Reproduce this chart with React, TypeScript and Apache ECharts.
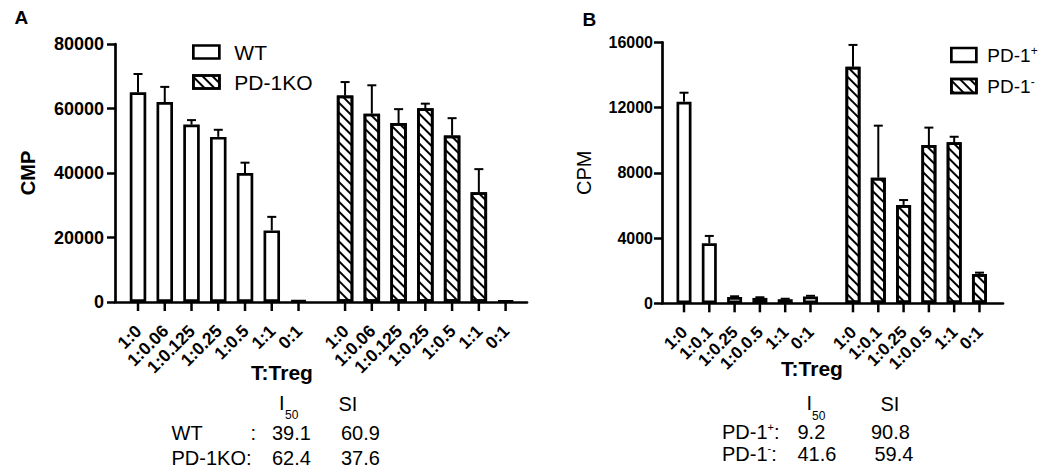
import React, { useEffect, useRef } from 'react';
import * as echarts from 'echarts';

// ---------- data ----------
const ratiosA = ['1:0', '1:0.06', '1:0.125', '1:0.25', '1:0.5', '1:1', '0:1'];
const wtMean = [65000, 62000, 55000, 51200, 40000, 22200, 500];
const wtSem = [5700, 4700, 1400, 2200, 3200, 4200, 0];
const koMean = [64000, 58400, 55500, 60100, 51600, 34000, 400];
const koSem = [4200, 8800, 4300, 1400, 5400, 7200, 0];

const ratiosB = ['1:0', '1:0.1', '1:0.25', '1:0.0.5', '1:1', '0:1'];
const posMean = [12360, 3680, 380, 330, 250, 420];
const posSem = [550, 450, 50, 40, 30, 40];
const negMean = [14500, 7700, 6030, 9700, 9870, 1800];
const negSem = [1340, 3190, 300, 1070, 340, 80];

const statRowsA = ['WT', 'PD-1KO:'];
const i50A = ['39.1', '62.4'];
const siA = ['60.9', '37.6'];
const statRowsB = ['+', '-'];
const i50B = ['9.2', '41.6'];
const siB = ['90.8', '59.4'];

// ---------- layout ----------
const FONT = '"Liberation Sans", Arial, Helvetica, sans-serif';
const offA = [0.86, 8.6];
const xMaxA = 15.4;
const offB = [0.87, 7.55];
const xMaxB = 13.48;

const hatch = {
  symbol: 'rect',
  symbolSize: 1,
  color: '#000',
  dashArrayX: [1, 0],
  dashArrayY: [1.7, 4.3],
  rotation: Math.PI / 4,
};

function barSeries(name: string, xi: number, means: number[], off: number, width: number, hatched: boolean) {
  return {
    type: 'bar',
    name,
    xAxisIndex: xi,
    yAxisIndex: xi,
    barWidth: width,
    barGap: '-100%',
    data: means.map((v, i) => [off + i, v]),
    itemStyle: {
      color: '#fff',
      borderColor: '#000',
      borderWidth: 2.7,
      ...(hatched ? { decal: hatch } : {}),
    },
    emphasis: { disabled: true },
    silent: true,
    z: 2,
  };
}

function errSeries(xi: number, means: number[], sems: number[], off: number) {
  return {
    type: 'custom',
    xAxisIndex: xi,
    yAxisIndex: xi,
    silent: true,
    z: 3,
    data: means.map((v, i) => [off + i, v, sems[i]]),
    renderItem: (_p: any, api: any) => {
      const x = api.value(0);
      const m = api.value(1);
      const e = api.value(2);
      if (!(e > 0)) return { type: 'group', children: [] };
      const p0 = api.coord([x, m]);
      const p1 = api.coord([x, m + e]);
      return {
        type: 'group',
        children: [
          { type: 'line', shape: { x1: p0[0], y1: p0[1], x2: p1[0], y2: p1[1] }, style: { stroke: '#000', lineWidth: 2 } },
          { type: 'line', shape: { x1: p1[0] - 4.5, y1: p1[1], x2: p1[0] + 4.5, y2: p1[1] }, style: { stroke: '#000', lineWidth: 2 } },
        ],
      };
    },
  };
}

function tickSeries(xi: number, labels: string[], offs: number[], fontSize: number) {
  const data: number[][] = [];
  offs.forEach((o) => labels.forEach((_l, i) => data.push([o + i, i])));
  return {
    type: 'custom',
    xAxisIndex: xi,
    yAxisIndex: xi,
    silent: true,
    z: 3,
    data,
    renderItem: (_p: any, api: any) => {
      const x = api.value(0);
      const idx = api.value(1);
      const p = api.coord([x, 0]);
      return {
        type: 'group',
        children: [
          { type: 'line', shape: { x1: p[0], y1: p[1], x2: p[0], y2: p[1] + 9 }, style: { stroke: '#000', lineWidth: 2.5 } },
          {
            type: 'text',
            x: p[0] + 0.5,
            y: p[1] + 26,
            rotation: Math.PI / 4,
            style: {
              text: labels[idx],
              align: 'right',
              verticalAlign: 'middle',
              font: `bold ${fontSize}px ${FONT}`,
              fill: '#000',
            },
          },
        ],
      };
    },
  };
}

function txt(text: string, x: number, y: number, size: number, weight = 'normal', align = 'left') {
  return {
    type: 'text',
    x,
    y,
    silent: true,
    style: { text, font: `${weight} ${size}px ${FONT}`, fill: '#000', align, verticalAlign: 'middle' },
  };
}

function supTxt(base: string, sup: string, tail: string, x: number, y: number) {
  return {
    type: 'text',
    x,
    y,
    silent: true,
    style: {
      text: `{a|${base}}{p|${sup}}{a|${tail}}`,
      fill: '#000',
      verticalAlign: 'middle',
      rich: {
        a: { fontSize: 20, lineHeight: 22, fontFamily: FONT, fill: '#000' },
        p: { fontSize: 11, lineHeight: 11, fontFamily: FONT, verticalAlign: 'top', fill: '#000' },
      },
    },
  };
}

const axisLine = { show: true, lineStyle: { color: '#000', width: 2.7 } };
const plain = (v: number) => String(v);

export default function App() {
  const ref = useRef<HTMLDivElement>(null);
  useEffect(() => {
    if (!ref.current) return;
    const chart = echarts.init(ref.current, undefined, { renderer: 'svg' });
    const option: any = {
      animation: false,
      backgroundColor: '#fff',
      grid: [
        { left: 115, top: 44, width: 412, height: 258 },
        { left: 662, top: 42.3, width: 341, height: 261 },
      ],
      xAxis: [
        { type: 'value', gridIndex: 0, min: 0, max: xMaxA, axisLine, axisTick: { show: false }, axisLabel: { show: false }, splitLine: { show: false } },
        { type: 'value', gridIndex: 1, min: 0, max: xMaxB, axisLine, axisTick: { show: false }, axisLabel: { show: false }, splitLine: { show: false } },
      ],
      yAxis: [
        {
          type: 'value', gridIndex: 0, min: 0, max: 80000, interval: 20000,
          axisLine, axisTick: { show: true, length: 8, lineStyle: { color: '#000', width: 2.5 } },
          axisLabel: { color: '#000', fontSize: 18, fontWeight: 'bold', fontFamily: FONT, margin: 11, formatter: plain },
          splitLine: { show: false },
          name: 'CMP', nameLocation: 'middle', nameGap: 77,
          nameTextStyle: { color: '#000', fontSize: 20, fontWeight: 'bold', fontFamily: FONT },
        },
        {
          type: 'value', gridIndex: 1, min: 0, max: 16000, interval: 4000,
          axisLine, axisTick: { show: true, length: 8, lineStyle: { color: '#000', width: 2.5 } },
          axisLabel: { color: '#000', fontSize: 16, fontWeight: 'bold', fontFamily: FONT, margin: 9, formatter: plain },
          splitLine: { show: false },
          name: 'CPM', nameLocation: 'middle', nameGap: 68,
          nameTextStyle: { color: '#000', fontSize: 20, fontWeight: 'normal', fontFamily: FONT },
        },
      ],
      legend: [
        {
          data: ['WT', 'PD-1KO'], orient: 'vertical', left: 187, top: 36.5, icon: 'rect',
          itemWidth: 26, itemHeight: 13, itemGap: 9, selectedMode: false,
          itemStyle: { borderColor: '#000', borderWidth: 2.7 },
          textStyle: { fontSize: 21, lineHeight: 21, fontFamily: FONT, color: '#000', padding: [0, 0, 0, 10] },
        },
        {
          data: ['PD-1+', 'PD-1-'], orient: 'vertical', left: 945, top: 40, icon: 'rect',
          itemWidth: 25, itemHeight: 14, itemGap: 11, selectedMode: false,
          itemStyle: { borderColor: '#000', borderWidth: 2.7 },
          formatter: (n: string) => (n === 'PD-1+' ? '{a|PD-1}{p|+}' : '{a|PD-1}{p|-}'),
          textStyle: {
            fontSize: 19, lineHeight: 20, fontFamily: FONT, color: '#000', padding: [0, 0, 0, 6],
            rich: {
              a: { fontSize: 19, lineHeight: 20, fontFamily: FONT, color: '#000' },
              p: { fontSize: 12, lineHeight: 10, fontFamily: FONT, color: '#000', verticalAlign: 'top' },
            },
          },
        },
      ],
      series: [
        barSeries('WT', 0, wtMean, offA[0], 16.5, false),
        barSeries('PD-1KO', 0, koMean, offA[1], 16.5, true),
        errSeries(0, wtMean, wtSem, offA[0]),
        errSeries(0, koMean, koSem, offA[1]),
        tickSeries(0, ratiosA, offA, 17.5),
        barSeries('PD-1+', 1, posMean, offB[0], 15, false),
        barSeries('PD-1-', 1, negMean, offB[1], 15, true),
        errSeries(1, posMean, posSem, offB[0]),
        errSeries(1, negMean, negSem, offB[1]),
        tickSeries(1, ratiosB, offB, 17),
      ],
      graphic: [
        txt('A', 14.5, 17.5, 19, 'bold'),
        txt('B', 582.5, 19, 19, 'bold'),
        txt('T:Treg', 282, 372, 21, 'bold', 'center'),
        txt('T:Treg', 812, 368, 21, 'bold', 'center'),
        // stats A
        txt('I', 279, 403, 20),
        txt('50', 285, 415, 12),
        txt('SI', 338.5, 404, 20),
        ...statRowsA.map((r, i) => txt(r, 171.5, 433 + 25 * i, 20)),
        txt(':', 250.5, 433, 20),
        ...i50A.map((v, i) => txt(v, 272, 433 + 25 * i, 20)),
        ...siA.map((v, i) => txt(v, 341, 433 + 25 * i, 20)),
        // stats B
        txt('I', 806.5, 403, 20),
        txt('50', 812, 416, 12),
        txt('SI', 880.5, 404, 20),
        ...statRowsB.map((s, i) => supTxt('PD-1', s, ':', 722, 432 + 21.5 * i)),
        ...i50B.map((v, i) => txt(v, 797.5, 432 + 21.5 * i, 20)),
        ...siB.map((v, i) => txt(v, i === 0 ? 871 : 874.5, 432 + 21.5 * i, 20)),
      ],
    };
    chart.setOption(option);
    return () => chart.dispose();
  }, []);
  return (
    <div
      ref={ref}
      style={{ position: 'fixed', left: 0, top: 0, width: 1050, height: 476, background: '#fff' }}
    />
  );
}
